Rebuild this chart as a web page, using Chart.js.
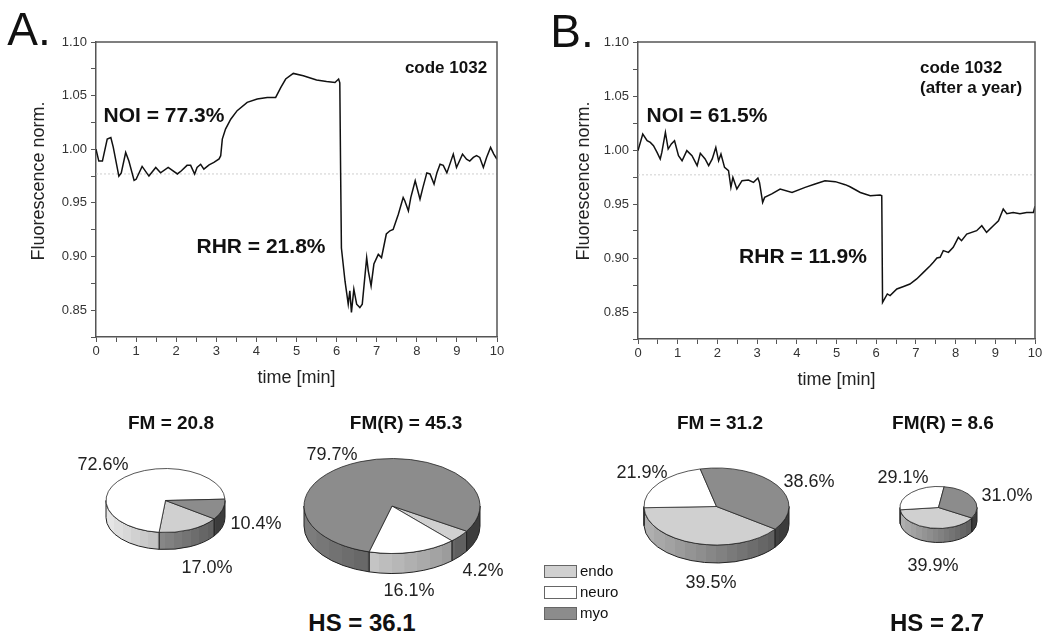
<!DOCTYPE html>
<html>
<head>
<meta charset="utf-8">
<script src="https://cdn.jsdelivr.net/npm/chart.js@4.4.1/dist/chart.umd.min.js"></script>
<style>
  body { margin: 0; background: #fff; }
  #fig { position: relative; width: 1047px; height: 636px; overflow: hidden;
         font-family: "Liberation Sans", Arial, sans-serif; color: #111; }
  #fig canvas { position: absolute; }
  .t { position: absolute; transform: translate(-50%, -50%); white-space: nowrap; line-height: 1.15; }
  .l { position: absolute; transform: translateY(-50%); white-space: nowrap; line-height: 1.15; }
  .v { position: absolute; transform: translate(-50%, -50%) rotate(-90deg); white-space: nowrap;
       line-height: 1.15; font-size: 18px; color: #222; }
  .b { font-weight: bold; }
  .pct { font-size: 18px; color: #222; }
  .ttl { font-size: 19px; font-weight: bold; }
  .lg { position: absolute; width: 31px; height: 11px; border: 1px solid #666; }
</style>
</head>
<body>
<div id="fig">
  <canvas id="lineA" width="520" height="400" style="left:0;top:0"></canvas>
  <canvas id="lineB" width="507" height="400" style="left:540px;top:0"></canvas>
  <canvas id="pieA1"></canvas>
  <canvas id="pieA2"></canvas>
  <canvas id="pieB1"></canvas>
  <canvas id="pieB2"></canvas>

  <div class="t" style="left:29px;top:29px;font-size:46px">A.</div>
  <div class="t" style="left:572px;top:31px;font-size:46px">B.</div>

  <div class="v" style="left:38px;top:181px">Fluorescence norm.</div>
  <div class="v" style="left:583px;top:181px">Fluorescence norm.</div>

  <div class="t b" style="left:446px;top:68px;font-size:17px">code 1032</div>
  <div class="l b" style="left:920px;top:68px;font-size:17px">code 1032</div>
  <div class="l b" style="left:920px;top:88px;font-size:17px">(after a year)</div>

  <div class="t b" style="left:164px;top:115px;font-size:21px">NOI = 77.3%</div>
  <div class="t b" style="left:261px;top:246px;font-size:21px">RHR = 21.8%</div>
  <div class="t b" style="left:707px;top:115px;font-size:21px">NOI = 61.5%</div>
  <div class="t b" style="left:803px;top:256px;font-size:21px">RHR = 11.9%</div>

  <div class="t ttl" style="left:171px;top:423px">FM = 20.8</div>
  <div class="t ttl" style="left:406px;top:423px">FM(R) = 45.3</div>
  <div class="t ttl" style="left:720px;top:423px">FM = 31.2</div>
  <div class="t ttl" style="left:943px;top:423px">FM(R) = 8.6</div>

  <div class="t pct" style="left:103px;top:464px">72.6%</div>
  <div class="t pct" style="left:256px;top:523px">10.4%</div>
  <div class="t pct" style="left:207px;top:567px">17.0%</div>
  <div class="t pct" style="left:332px;top:454px">79.7%</div>
  <div class="t pct" style="left:483px;top:570px">4.2%</div>
  <div class="t pct" style="left:409px;top:590px">16.1%</div>
  <div class="t pct" style="left:642px;top:472px">21.9%</div>
  <div class="t pct" style="left:809px;top:481px">38.6%</div>
  <div class="t pct" style="left:711px;top:582px">39.5%</div>
  <div class="t pct" style="left:903px;top:477px">29.1%</div>
  <div class="t pct" style="left:1007px;top:495px">31.0%</div>
  <div class="t pct" style="left:933px;top:565px">39.9%</div>

  <div class="t b" style="left:362px;top:623px;font-size:24px">HS = 36.1</div>
  <div class="t b" style="left:937px;top:623px;font-size:24px">HS = 2.7</div>

  <div class="lg" style="left:544px;top:565px;background:#d0d0d0"></div>
  <div class="lg" style="left:544px;top:586px;background:#ffffff"></div>
  <div class="lg" style="left:544px;top:607px;background:#8c8c8c"></div>
  <div class="l" style="left:580px;top:571px;font-size:15px">endo</div>
  <div class="l" style="left:580px;top:592px;font-size:15px">neuro</div>
  <div class="l" style="left:580px;top:613px;font-size:15px">myo</div>
</div>

<script>
const FONT = '"Liberation Sans", Arial, sans-serif';

// trace A (code 1032)
const timeA = [0, 0.07, 0.16, 0.28, 0.37, 0.43, 0.57, 0.63, 0.74, 0.82, 0.95, 1.0, 1.15, 1.32, 1.49,
  1.61, 1.8, 2.03, 2.13, 2.27, 2.36, 2.46, 2.52, 2.61, 2.69, 2.82, 2.94, 3.07, 3.11, 3.15, 3.23,
  3.36, 3.52, 3.77, 4.02, 4.27, 4.48, 4.61, 4.73, 4.92, 5.17, 5.5, 5.75, 5.96, 6.05, 6.08, 6.1,
  6.12, 6.21, 6.29, 6.33, 6.37, 6.43, 6.5, 6.58, 6.64, 6.75, 6.79, 6.86, 6.93, 7.04, 7.12, 7.24,
  7.33, 7.41, 7.54, 7.66, 7.7, 7.79, 7.85, 7.96, 8.08, 8.15, 8.25, 8.33, 8.43, 8.5, 8.58, 8.66,
  8.75, 8.91, 8.99, 9.14, 9.24, 9.32, 9.41, 9.49, 9.57, 9.66, 9.74, 9.84, 9.92, 10.0];
const fluoA = [1.0, 0.989, 0.989, 1.0095, 1.011, 1.002, 0.975, 0.978, 0.997, 0.989, 0.971, 0.972,
  0.984, 0.975, 0.983, 0.978, 0.983, 0.977, 0.98, 0.985, 0.985, 0.977, 0.983, 0.986, 0.9815,
  0.9855, 0.9877, 0.991, 0.994, 1.0095, 1.0188, 1.028, 1.036, 1.0437, 1.0468, 1.0483, 1.0483,
  1.0577, 1.0655, 1.0707, 1.0685, 1.0645, 1.0632, 1.0623, 1.0655, 1.062, 0.98, 0.908, 0.877,
  0.8556, 0.868, 0.848, 0.8696, 0.8556, 0.8524, 0.8556, 0.899, 0.8867, 0.8727, 0.893, 0.902,
  0.899, 0.921, 0.924, 0.9253, 0.9395, 0.955, 0.952, 0.9426, 0.955, 0.9706, 0.9535, 0.964,
  0.978, 0.977, 0.9675, 0.978, 0.986, 0.985, 0.978, 0.9955, 0.983, 0.9955, 0.9907, 0.989,
  0.9924, 0.994, 0.9924, 0.983, 0.9924, 1.0017, 0.9955, 0.9907];

// trace B (after a year)
const timeB = [0, 0.12, 0.23, 0.31, 0.39, 0.48, 0.56, 0.6, 0.69, 0.76, 0.84, 0.92, 1.02, 1.11,
  1.23, 1.36, 1.49, 1.57, 1.69, 1.78, 1.87, 1.96, 2.03, 2.09, 2.18, 2.28, 2.34, 2.39, 2.49, 2.62,
  2.78, 2.91, 3.02, 3.06, 3.14, 3.19, 3.37, 3.58, 3.88, 4.21, 4.46, 4.71, 4.97, 5.22, 5.34, 5.6,
  5.85, 6.1, 6.14, 6.16, 6.28, 6.35, 6.52, 6.69, 6.85, 7.02, 7.19, 7.36, 7.44, 7.53, 7.61, 7.69,
  7.82, 7.94, 8.07, 8.15, 8.28, 8.53, 8.66, 8.78, 8.95, 9.08, 9.2, 9.29, 9.45, 9.62, 9.79, 9.96, 10.0];
const fluoB = [0.9994, 1.0148, 1.0086, 1.007, 1.004, 0.9978, 0.9917, 0.9978, 1.0163, 1.0009,
  1.0056, 1.0086, 0.9947, 0.99, 0.9994, 0.9947, 0.9855, 0.9969, 0.9917, 0.9855, 0.9917, 1.0024,
  0.99, 0.9963, 0.9839, 0.9808, 0.9654, 0.9746, 0.9639, 0.9716, 0.9722, 0.97, 0.974, 0.97,
  0.9515, 0.9561, 0.9593, 0.9639, 0.9607, 0.9654, 0.9685, 0.9716, 0.9707, 0.9679, 0.966, 0.9607,
  0.9577, 0.9583, 0.9577, 0.8589, 0.8667, 0.8652, 0.8713, 0.8736, 0.8759, 0.8806, 0.8867,
  0.8929, 0.896, 0.9, 0.9006, 0.9068, 0.9052, 0.9099, 0.9191, 0.916, 0.9222, 0.9253, 0.9299,
  0.9237, 0.9299, 0.9345, 0.9454, 0.941, 0.9422, 0.941, 0.9422, 0.9422, 0.948];

const refTimes = [0, 10];
const refLevel = 0.977;

const xTickValues = [0, 0.5, 1, 1.5, 2, 2.5, 3, 3.5, 4, 4.5, 5, 5.5, 6, 6.5, 7, 7.5, 8, 8.5, 9, 9.5, 10];
const yTickValues = [0.825, 0.85, 0.875, 0.9, 0.925, 0.95, 0.975, 1.0, 1.025, 1.05, 1.075, 1.1];

// pies: values in order endo, neuro, myo
const categories = ["endo", "neuro", "myo"];
const fmA = [17.0, 72.6, 10.4];
const fmrA = [4.2, 16.1, 79.7];
const fmB = [39.5, 21.9, 38.6];
const fmrB = [39.9, 29.1, 31.0];

const topColors = ["#d0d0d0", "#ffffff", "#8c8c8c"];
const sideColors = [
  [[178, 178, 178], [86, 86, 86]],
  [[232, 232, 232], [140, 140, 140]],
  [[126, 126, 126], [58, 58, 58]],
];

const frame = {
  id: "frame",
  afterDraw(chart) {
    const { ctx, chartArea: a } = chart;
    ctx.save();
    ctx.strokeStyle = "#555";
    ctx.lineWidth = 1.5;
    ctx.beginPath();
    ctx.moveTo(a.left, a.top);
    ctx.lineTo(a.right, a.top);
    ctx.lineTo(a.right, a.bottom);
    ctx.stroke();
    ctx.restore();
  },
};

function makeLine(id, times, values, cfg) {
  return new Chart(document.getElementById(id), {
    type: "line",
    data: {
      datasets: [
        {
          data: times.map((t, i) => ({ x: t, y: values[i] })),
          borderColor: "#111",
          borderWidth: 1.5,
          pointRadius: 0,
          tension: 0,
        },
        {
          data: refTimes.map((t) => ({ x: t, y: refLevel })),
          borderColor: "#cfcfcf",
          borderWidth: 1,
          borderDash: [2, 2],
          pointRadius: 0,
        },
      ],
    },
    options: {
      responsive: false,
      animation: false,
      layout: { padding: { top: 42, right: cfg.right, left: 0, bottom: 0 } },
      plugins: { legend: { display: false }, tooltip: { enabled: false } },
      scales: {
        x: {
          type: "linear",
          min: 0,
          max: 10,
          afterBuildTicks: (ax) => { ax.ticks = xTickValues.map((v) => ({ value: v })); },
          afterFit: (s) => { s.height = cfg.xHeight; },
          ticks: {
            autoSkip: false,
            maxRotation: 0,
            padding: 2,
            color: "#333",
            font: { size: 13, family: FONT },
            callback: (v) => (Number.isInteger(v) ? String(v) : ""),
          },
          grid: { drawOnChartArea: false, tickLength: 5, color: "#555" },
          border: { color: "#555", width: 1.5 },
          title: {
            display: true,
            text: "time [min]",
            color: "#222",
            font: { size: 18, family: FONT },
            padding: { top: 0, bottom: cfg.xTitlePad },
          },
        },
        y: {
          type: "linear",
          min: 0.825,
          max: 1.1,
          afterBuildTicks: (ax) => { ax.ticks = yTickValues.map((v) => ({ value: v })); },
          afterFit: (s) => { s.width = cfg.yWidth; },
          ticks: {
            autoSkip: false,
            padding: 4,
            color: "#333",
            font: { size: 13, family: FONT },
            callback: (v) => (Math.round(v * 1000) % 50 === 0 ? v.toFixed(2) : ""),
          },
          grid: { drawOnChartArea: false, tickLength: 5, color: "#555" },
          border: { color: "#555", width: 1.5 },
        },
      },
    },
    plugins: [frame],
  });
}

const pie3d = {
  id: "pie3d",
  beforeDatasetsDraw(chart, args, opts) {
    const ctx = chart.ctx;
    const arcs = chart.getDatasetMeta(0).data;
    const k = opts.squash;
    const depth = opts.depth;
    const bands = 14;
    const cy = arcs[0].y;
    arcs.forEach((arc, i) => {
      const { x, y, startAngle, endAngle, outerRadius } = arc;
      const rx = outerRadius;
      const ry = outerRadius * k;
      let s = startAngle % (2 * Math.PI);
      if (s < 0) s += 2 * Math.PI;
      const e = s + (endAngle - startAngle);
      const grad = ctx.createLinearGradient(x - rx, 0, x + rx, 0);
      const [c0, c1] = sideColors[i];
      for (let j = 0; j < bands; j++) {
        const t = (j + 0.5) / bands;
        const c = c0.map((v, n) => Math.round(v + (c1[n] - v) * t));
        grad.addColorStop(j / bands, `rgb(${c})`);
        grad.addColorStop((j + 1) / bands - 0.001, `rgb(${c})`);
      }
      [[0, Math.PI], [2 * Math.PI, 3 * Math.PI]].forEach(([lo, hi]) => {
        const a = Math.max(s, lo);
        const b = Math.min(e, hi);
        if (b <= a) return;
        ctx.beginPath();
        ctx.ellipse(x, y, rx, ry, 0, a, b);
        ctx.ellipse(x, y + depth, rx, ry, 0, b, a, true);
        ctx.closePath();
        ctx.fillStyle = grad;
        ctx.fill();
        ctx.strokeStyle = "#222";
        ctx.lineWidth = 1;
        ctx.stroke();
      });
    });
    ctx.save();
    ctx.translate(0, cy);
    ctx.scale(1, k);
    ctx.translate(0, -cy);
  },
  afterDatasetsDraw(chart) {
    chart.ctx.restore();
  },
};

function makePie(id, values, cfg) {
  const el = document.getElementById(id);
  const size = Math.round(2 * cfg.rx + 20);
  el.width = size;
  el.height = size;
  el.style.left = cfg.cx - size / 2 + "px";
  el.style.top = cfg.cy - size / 2 + "px";
  return new Chart(el, {
    type: "pie",
    data: {
      labels: categories,
      datasets: [{ data: values, backgroundColor: topColors, borderColor: "#222", borderWidth: 1 }],
    },
    options: {
      responsive: false,
      animation: false,
      rotation: cfg.rotation,
      radius: cfg.rx,
      layout: { padding: 0 },
      plugins: {
        legend: { display: false },
        tooltip: { enabled: false },
        pie3d: { squash: cfg.ry / cfg.rx, depth: cfg.depth },
      },
    },
    plugins: [pie3d],
  });
}

makeLine("lineA", timeA, fluoA, { right: 23, xHeight: 63, yWidth: 96, xTitlePad: 11 });
makeLine("lineB", timeB, fluoB, { right: 12, xHeight: 61, yWidth: 98, xTitlePad: 9 });

makePie("pieA1", fmA, { cx: 165, cy: 500, rx: 59.5, ry: 32, depth: 17, rotation: 125 });
makePie("pieA2", fmrA, { cx: 392, cy: 505.5, rx: 88, ry: 47.5, depth: 20, rotation: 122 });
makePie("pieB1", fmB, { cx: 716.5, cy: 506.5, rx: 72.5, ry: 38.5, depth: 18, rotation: 126 });
makePie("pieB2", fmrB, { cx: 938.5, cy: 507, rx: 38.5, ry: 21, depth: 14, rotation: 120 });
</script>
</body>
</html>
